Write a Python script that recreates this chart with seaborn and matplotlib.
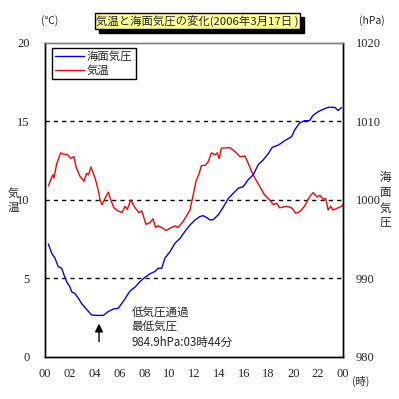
import matplotlib
matplotlib.use('Agg')

import pandas as pd
import seaborn as sns
import matplotlib.pyplot as plt
from matplotlib.patches import Rectangle

# temperature (deg C), hour of day
temp_hours = [0.27, 0.62, 0.72, 0.94, 1.26, 1.53, 1.8, 2.07, 2.33, 2.5, 2.82, 3.14, 3.35, 3.5,
              3.7, 4.03, 4.3, 4.43, 4.6, 4.83, 5.1, 5.3, 5.55, 5.9, 6.2, 6.45, 6.63, 6.9, 7.25,
              7.57, 7.8, 8.13, 8.45, 8.7, 8.9, 9.1, 9.4, 9.74, 10.06, 10.47, 10.7, 11.1, 11.4,
              11.67, 11.9, 12.16, 12.42, 12.6, 12.9, 13.15, 13.4, 13.7, 13.87, 14.03, 14.2,
              14.9, 15.3, 15.7, 16.1, 16.37, 16.64, 16.9, 17.3, 17.7, 18.1, 18.4, 18.65, 18.9,
              19.46, 19.86, 20.2, 20.5, 20.9, 21.3, 21.6, 21.9, 22.14, 22.4, 22.6, 22.8, 23.0,
              23.2, 23.6, 23.9, 24.0]
temp_values = [10.9, 11.6, 11.4, 12.3, 13.0, 12.9, 12.9, 12.65, 12.76, 12.1, 11.5, 11.2, 11.7, 11.6,
               12.1, 11.4, 10.6, 10.0, 9.7, 10.1, 10.5, 10.0, 9.5, 9.3, 9.2, 9.6, 9.4, 10.0, 9.5,
               9.2, 9.3, 8.45, 8.55, 8.8, 8.25, 8.35, 8.25, 8.05, 8.2, 8.35, 8.25, 8.6, 9.0,
               9.35, 10.2, 11.2, 11.7, 12.2, 12.2, 12.45, 13.0, 12.87, 13.0, 12.65, 13.3,
               13.33, 13.08, 12.76, 12.8, 12.33, 11.8, 11.4, 10.85, 10.3, 10.0, 9.7, 9.8, 9.5,
               9.6, 9.5, 9.15, 9.25, 9.6, 10.2, 10.47, 10.2, 10.3, 10.04, 10.1, 9.36, 9.6,
               9.36, 9.5, 9.6, 9.75]

# sea level pressure (hPa)
pres_hours = [0.27, 0.54, 0.8, 1.07, 1.34, 1.53, 1.74, 2.0, 2.15, 2.4, 2.68, 2.95, 3.22, 3.5,
              3.76, 4.16, 4.7, 5.1, 5.5, 5.9, 6.17, 6.44, 6.84, 7.25, 7.65, 8.05, 8.45, 8.86,
              9.12, 9.4, 9.66, 10.06, 10.47, 10.87, 11.27, 11.67, 12.08, 12.48, 12.75, 13.07,
              13.3, 13.55, 13.95, 14.36, 14.76, 15.16, 15.57, 15.97, 16.37, 16.77, 17.17,
              17.57, 17.98, 18.3, 18.8, 19.3, 19.86, 20.1, 20.5, 20.9, 21.3, 21.6, 22.0, 22.4,
              22.8, 23.35, 23.6, 23.9]
pres_values = [994.4, 993.2, 992.6, 991.5, 991.3, 990.45, 989.6, 988.95, 988.3, 988.1, 987.5, 986.8,
               986.3, 985.8, 985.35, 985.3, 985.3, 985.8, 986.1, 986.2, 986.8, 987.4, 988.4,
               988.9, 989.6, 990.15, 990.6, 990.9, 991.3, 991.3, 992.6, 993.4, 994.5, 995.1,
               996.0, 996.8, 997.45, 997.9, 998.0, 997.7, 997.45, 997.5, 998.1, 999.1, 1000.2,
               1000.85, 1001.5, 1001.7, 1002.6, 1003.2, 1004.5, 1005.1, 1005.9, 1006.7, 1007.0,
               1007.55, 1008.06, 1008.9, 1009.8, 1010.1, 1010.1, 1010.8, 1011.25, 1011.55,
               1011.8, 1011.8, 1011.4, 1011.8]

x_ticks = list(range(0, 25, 2))
x_labels = ['00', '02', '04', '06', '08', '10', '12', '14', '16', '18', '20', '22', '00']
temp_ticks = [0, 5, 10, 15, 20]
pres_ticks = [980, 990, 1000, 1010, 1020]

title = '気温と海面気圧の変化(2006年3月17日 )'
note_lines = ['低気圧通過', '最低気圧', '984.9hPa:03時44分']
left_label = '気温'
right_label = '海面気圧'

sns.set_style('white')
plt.rcParams['font.family'] = ['Noto Sans CJK JP', 'DejaVu Sans']
num_font = 'Liberation Serif'

df_t = pd.DataFrame({'hour': temp_hours, 'temp': temp_values})
df_p = pd.DataFrame({'hour': pres_hours, 'pres': pres_values})

fig = plt.figure(figsize=(3.99, 3.99), dpi=100)
ax = fig.add_axes([0.1128, 0.1053, 0.7469, 0.787])
ax2 = ax.twinx()

sns.lineplot(data=df_p, x='hour', y='pres', ax=ax2, color='#0000ff', lw=1.0,
             estimator=None, sort=False, label='海面気圧', legend=False)
sns.lineplot(data=df_t, x='hour', y='temp', ax=ax, color='#ff0000', lw=1.0,
             estimator=None, sort=False, label='気温', legend=False)

ax.set_xlim(0, 24)
ax.set_ylim(0, 20)
ax2.set_ylim(980, 1020)

for v in [5, 10, 15]:
    ax.axhline(v, color='black', lw=1.0, ls=(0, (3, 3)), zorder=0)

ax.set_xticks(x_ticks)
ax.set_xticklabels(x_labels, fontfamily=num_font, fontsize=9)
ax.set_yticks(temp_ticks)
ax.set_yticklabels([str(t) for t in temp_ticks], fontfamily=num_font, fontsize=9)
ax2.set_yticks(pres_ticks)
ax2.set_yticklabels([str(p) for p in pres_ticks], fontfamily=num_font, fontsize=9)
ax.tick_params(axis='x', direction='in', length=3, pad=8, width=0.8)
ax.tick_params(axis='y', length=0, pad=11)
ax2.tick_params(axis='y', length=0, pad=9)
ax.set_xlabel('')
ax.set_ylabel('')
ax2.set_ylabel('')

for a in (ax, ax2):
    for side in ['left', 'right', 'bottom']:
        a.spines[side].set_color('black')
        a.spines[side].set_linewidth(1.0)
    a.spines['top'].set_color('#808080')
    a.spines['top'].set_linewidth(1.0)

# legend
h1, l1 = ax2.get_legend_handles_labels()
h2, l2 = ax.get_legend_handles_labels()
ax2.legend(h1 + h2, l1 + l2, loc='upper left', bbox_to_anchor=(0.023, 0.985),
           borderaxespad=0, frameon=True, fancybox=False, edgecolor='black',
           fontsize=8.2, handlelength=2.5, handletextpad=0.25, labelspacing=0.25,
           borderpad=0.3, framealpha=1)
ax2.get_legend().get_frame().set_linewidth(1.0)

# annotation for the low pressure passage
ax.annotate('', xy=(4.35, 2.3), xytext=(4.35, 0.8),
            arrowprops=dict(arrowstyle='-|>', color='black', lw=1.0, mutation_scale=12))
for i, line in enumerate(note_lines):
    ypix = 313 + i * 14.5
    ax.text(6.95, (357 - ypix) / 15.7, line, fontsize=8.3, va='center', ha='left')

# title box with shadow
fig.patches.append(Rectangle((99 / 399, 1 - 33 / 399), 205 / 399, 16 / 399,
                             transform=fig.transFigure, facecolor='black', edgecolor='black'))
fig.patches.append(Rectangle((95 / 399, 1 - 29 / 399), 205 / 399, 16 / 399,
                             transform=fig.transFigure, facecolor='#ffff99', edgecolor='black', lw=1.0))
fig.text(197.5 / 399, 1 - 21 / 399, title, ha='center', va='center', fontsize=8.2)

fig.text(50 / 399, 1 - 21 / 399, '(℃)', ha='center', va='center', fontsize=7.5)
fig.text(372 / 399, 1 - 21 / 399, '(hPa)', ha='center', va='center', fontsize=7.5)
fig.text(361 / 399, 1 - 381 / 399, '(時)', ha='center', va='center', fontsize=7.5)
for i, ch in enumerate(left_label):
    fig.text(13 / 399, 1 - (193 + i * 14.5) / 399, ch, ha='center', va='center', fontsize=8.3)
for i, ch in enumerate(right_label):
    fig.text(385 / 399, 1 - (177 + i * 15.5) / 399, ch, ha='center', va='center', fontsize=8.3)

fig.savefig('out.png', dpi=100, facecolor='white')
